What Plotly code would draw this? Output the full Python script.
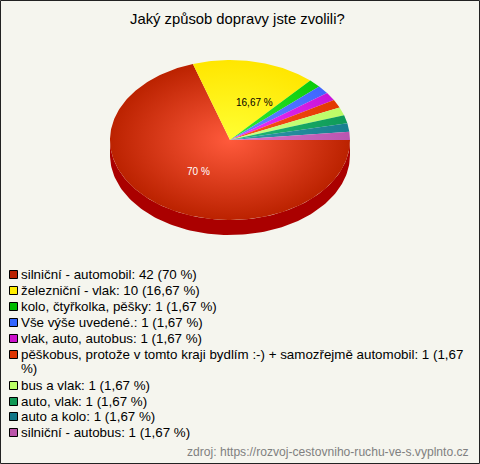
import math
import plotly.graph_objects as go

TITLE = "Jaký způsob dopravy jste zvolili?"
SOURCE = "zdroj: https://rozvoj-cestovniho-ruchu-ve-s.vyplnto.cz"
categories = [
    "silniční - automobil",
    "železniční - vlak",
    "kolo, čtyřkolka, pěšky",
    "Vše výše uvedené.",
    "vlak, auto, autobus",
    "pěškobus, protože v tomto kraji bydlím :-) + samozřejmě automobil",
    "bus a vlak",
    "auto, vlak",
    "auto a kolo",
    "silniční - autobus",
]
counts = [42, 10, 1, 1, 1, 1, 1, 1, 1, 1]
percents = ["70", "16,67", "1,67", "1,67", "1,67", "1,67", "1,67", "1,67", "1,67", "1,67"]
edge_colors = ["#bb2200", "#ffe600", "#0ccc0c", "#3f66ff", "#c814d8", "#e23800",
               "#bcfc66", "#0f9a58", "#177f90", "#b855b0"]
center_colors = ["#ff5a3c", "#ffff33", "#33ee33", "#6688ff", "#ee33ff", "#ff5522",
                 "#ccff88", "#22bb77", "#3399aa", "#dd77cc"]
legend_colors = ["#bb2200", "#ffee00", "#00bb00", "#3366ff", "#cc11cc", "#dd3300",
                 "#bbff66", "#119955", "#117788", "#bb55aa"]
SIDE = "#aa0000"
BG = "#f5f5ee"

CX, CY, RX, RY, DEPTH = 230, 140, 120, 80, 15
total = sum(counts)
fig = go.Figure()

# side wall
t = [math.pi * i / 120 for i in range(121)]
sx = [CX + RX * math.cos(a) for a in t] + [CX + RX * math.cos(a) for a in reversed(t)]
sy = [CY + DEPTH + RY * math.sin(a) for a in t] + [CY + RY * math.sin(a) for a in reversed(t)]
fig.add_trace(go.Scatter(x=sx, y=sy, mode="lines", fill="toself", fillcolor=SIDE,
                         line=dict(width=0), hoverinfo="skip", showlegend=False))

# slices, clockwise from east; zero-area spikes centre the radial gradient on the pie
start = 0.0
for count, c0, c1 in zip(counts, center_colors, edge_colors):
    end = start + count / total * 2 * math.pi
    n = max(2, int(count * 6))
    arc = [start + (end - start) * i / n for i in range(n + 1)]
    xs = [CX, CX - RX, CX, CX + RX, CX] + [CX + RX * math.cos(a) for a in arc] + [CX]
    ys = [CY, CY - RY, CY, CY + RY, CY] + [CY + RY * math.sin(a) for a in arc] + [CY]
    fig.add_trace(go.Scatter(
        x=xs, y=ys, mode="lines", fill="toself", line=dict(width=0),
        fillgradient=dict(type="radial", colorscale=[[0, c0], [1, c1]]),
        hoverinfo="skip", showlegend=False))
    start = end

annotations = [
    dict(x=237.5, y=19, text=TITLE, font=dict(size=14.8, color="#000000")),
    dict(x=198, y=171, text="70 %", font=dict(size=10, color="#ffffff")),
    dict(x=254, y=102, text="16,67 %", font=dict(size=10, color="#000000")),
    dict(x=470, y=452, text=SOURCE, xanchor="right", font=dict(size=12.1, color="#808080")),
]

# legend
legend_y = [274, 290, 306, 322, 338, 354, 385, 401, 416, 432]
LEGEND_FONT = dict(size=13.35, color="#000000")
shapes = [dict(type="rect", x0=0.5, x1=479.5, y0=0.5, y1=463.5,
               line=dict(color="#222222", width=1), fillcolor="rgba(0,0,0,0)")]
for cat, cnt, pct, col, y in zip(categories, counts, percents, legend_colors, legend_y):
    label = f"{cat}: {cnt} ({pct} %)"
    if len(label) > 70:
        head, tail = label.rsplit(" ", 1)
        annotations.append(dict(x=20, y=y, text=head, xanchor="left", font=LEGEND_FONT))
        annotations.append(dict(x=20, y=y + 14, text=tail, xanchor="left", font=LEGEND_FONT))
    else:
        annotations.append(dict(x=20, y=y, text=label, xanchor="left", font=LEGEND_FONT))
    shapes.append(dict(type="rect", x0=9.5, x1=17.5, y0=y - 3.5, y1=y + 4.5,
                       fillcolor=col, line=dict(color="#000000", width=1)))

for a in annotations:
    a.setdefault("xanchor", "center")
    a.update(xref="x", yref="y", yanchor="middle", showarrow=False, borderpad=0)

fig.update_layout(
    width=480, height=464, margin=dict(l=0, r=0, t=0, b=0),
    paper_bgcolor=BG, plot_bgcolor=BG,
    font=dict(family="Liberation Sans, Arial, sans-serif"),
    xaxis=dict(range=[0, 480], visible=False, fixedrange=True),
    yaxis=dict(range=[464, 0], visible=False, fixedrange=True),
    annotations=annotations, shapes=shapes, showlegend=False,
)
fig.write_html("out.html", config={"displayModeBar": False},
               post_script="document.body.style.margin='0';document.body.style.overflow='hidden';")
